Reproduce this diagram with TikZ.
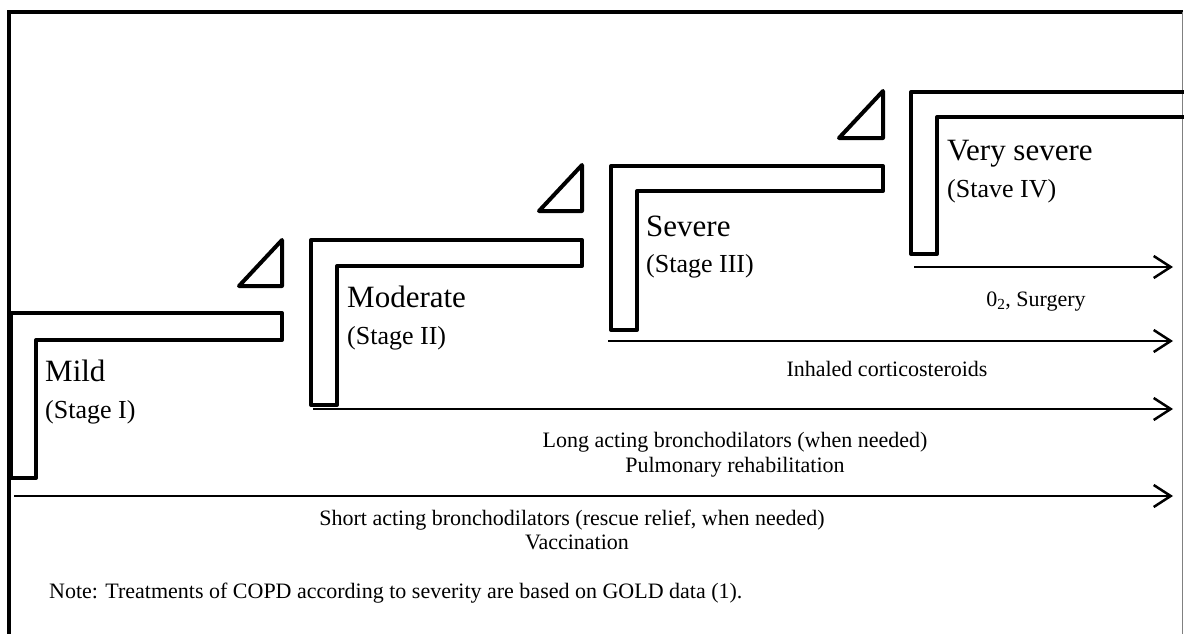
\documentclass[tikz,border=0pt]{standalone}
\usepackage{fontspec}
\setmainfont{Liberation Serif}
\usetikzlibrary{arrows.meta}
\begin{document}
\begin{tikzpicture}[x=1pt,y=-1pt,
  stair/.style={line width=4pt,line join=round},
  tri/.style={line width=4pt,line join=round},
  treat/.style={line width=2.5pt,-{Straight Barb[length=17pt,width=22pt,line width=2.5pt]}},
  head/.style={anchor=base west,inner sep=0pt,font=\fontsize{31}{36}\selectfont},
  sub/.style={anchor=base west,inner sep=0pt,font=\fontsize{26}{30}\selectfont},
  lab/.style={anchor=base,inner sep=0pt,font=\fontsize{22}{26}\selectfont},
  frame/.style={line width=4pt},
]
\useasboundingbox (0,0) rectangle (1184,634);
% frame
\draw[frame] (9,634) -- (9,12) -- (1183,12);
\draw[line width=0.8pt,gray] (1182,12) -- (1182,634);
% stairs
\draw[stair] (11,478) -- (11,313) -- (282,313) -- (282,340) -- (36,340) -- (36,478) -- cycle;
\draw[stair] (311,405) -- (311,240) -- (582,240) -- (582,266) -- (337,266) -- (337,405) -- cycle;
\draw[stair] (611,330) -- (611,166) -- (883,166) -- (883,191) -- (637,191) -- (637,330) -- cycle;
\draw[stair] (1184,92) -- (911,92) -- (911,254) -- (937,254) -- (937,117) -- (1184,117);
% triangles
\draw[tri] (239,286) -- (282,240) -- (282,286) -- cycle;
\draw[tri] (539,211) -- (582,165) -- (582,211) -- cycle;
\draw[tri] (839,138) -- (883,91) -- (883,138) -- cycle;
% stage labels
\node[head] (h1) at (45,381) {Mild};
\node[sub] (s1) at (45,418) {(Stage I)};
\node[head] (h2) at (347,307) {Moderate};
\node[sub] (s2) at (347,344) {(Stage II)};
\node[head] (h3) at (646,236) {Severe};
\node[sub] (s3) at (646,272) {(Stage III)};
\node[head] (h4) at (947,160) {Very severe};
\node[sub] (s4) at (947,197) {(Stave IV)};
% arrows
\coordinate (a1s) at (14,496);
\coordinate (a1e) at (1173,496);
\coordinate (a2s) at (313,409);
\coordinate (a2e) at (1173,409);
\coordinate (a3s) at (608,341);
\coordinate (a3e) at (1173,341);
\coordinate (a4s) at (914,267);
\coordinate (a4e) at (1173,267);
\draw[treat] (a1s) -- (a1e);
\draw[treat] (a2s) -- (a2e);
\draw[treat] (a3s) -- (a3e);
\draw[treat] (a4s) -- (a4e);
% treatment labels
\node[lab] (t1a) at (572,525) {Short acting bronchodilators (rescue relief, when needed)};
\node[lab] (t1b) at (577,549) {Vaccination};
\node[lab] (t2a) at (735,447) {Long acting bronchodilators (when needed)};
\node[lab] (t2b) at (735,472) {Pulmonary rehabilitation};
\node[lab] (t3) at (887,376) {Inhaled corticosteroids};
\node[lab] (t4) at (1036,306) {0\textsubscript{2}, Surgery};
\node[lab,anchor=base west] (note) at (49,598) {Note: Treatments of COPD according to severity are based on GOLD data (1).};
\end{tikzpicture}
\end{document}
